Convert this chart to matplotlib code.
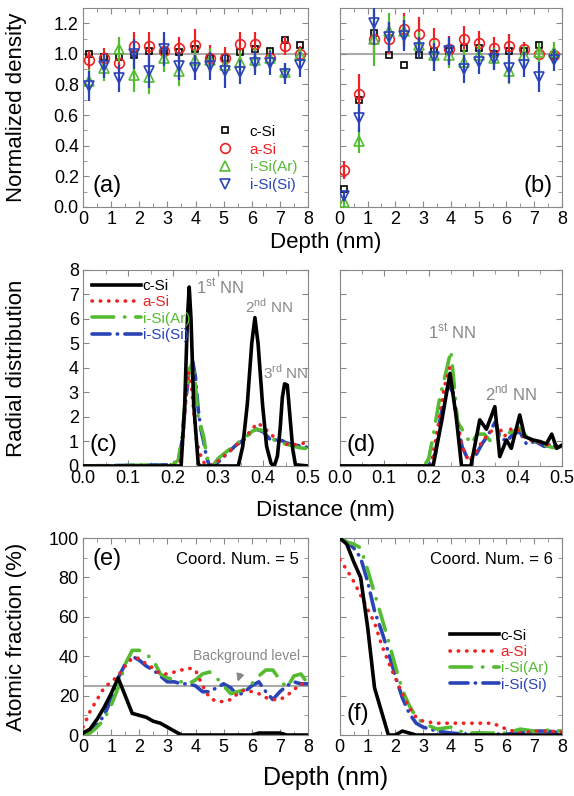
import matplotlib
matplotlib.use('Agg')
import matplotlib.pyplot as plt
from matplotlib.ticker import MultipleLocator

plt.rcParams['font.family'] = ['Liberation Sans', 'DejaVu Sans']
plt.rcParams['mathtext.fontset'] = 'custom'
plt.rcParams['mathtext.rm'] = 'Liberation Sans'

NAMES = ['c-Si', 'a-Si', 'i-Si(Ar)', 'i-Si(Si)']
COLORS = ['black', '#ee2222', '#55bb33', '#2a44b8']
GRAY = '#888888'

# ---- panel (a): normalized density vs depth ----
a_x = [0.22 + 0.535 * i for i in range(15)]
a_csi = [1.00, 0.98, 0.98, 0.99, 1.02, 1.02, 1.01, 1.03, 0.97, 0.97, 1.01, 1.03, 1.02, 1.09, 1.06]
a_asi = [0.96, 0.97, 0.94, 1.05, 1.05, 1.02, 1.04, 1.06, 0.97, 0.975, 1.065, 1.065, 0.97, 1.05, 1.00]
a_ar = [0.82, 0.91, 1.03, 0.86, 0.85, 0.97, 0.89, 0.96, 0.96, 0.93, 0.95, 0.96, 0.97, 0.88, 0.99]
a_si = [0.79, 0.92, 0.84, 1.00, 0.89, 1.03, 0.92, 0.91, 0.92, 0.89, 0.88, 0.94, 0.94, 0.87, 0.93]
a_err_asi = [0.06, 0.07, 0.06, 0.09, 0.09, 0.08, 0.07, 0.10, 0.09, 0.07, 0.08, 0.08, 0.06, 0.06, 0.05]
a_err_ar = [0.08, 0.09, 0.08, 0.11, 0.11, 0.09, 0.10, 0.07, 0.08, 0.07, 0.07, 0.08, 0.06, 0.06, 0.05]
a_err_si = [0.10, 0.08, 0.09, 0.10, 0.11, 0.11, 0.09, 0.08, 0.09, 0.11, 0.08, 0.08, 0.08, 0.07, 0.08]

# ---- panel (b) ----
b_x = [0.14 + 0.542 * i for i in range(15)]
b_csi = [0.115, 0.70, 1.135, 0.99, 0.93, 0.99, 1.02, 1.02, 1.04, 1.04, 1.00, 1.02, 1.02, 1.06, 0.99]
b_asi = [0.24, 0.74, 1.10, 1.10, 1.16, 1.13, 1.07, 1.03, 1.10, 1.07, 1.04, 1.05, 1.03, 1.00, 0.99]
b_ar = [0.03, 0.43, 1.10, 1.15, 1.15, 1.06, 0.99, 0.99, 0.95, 0.99, 0.97, 0.89, 0.99, 1.01, 1.01]
b_si = [0.07, 0.58, 1.20, 1.11, 1.12, 1.04, 0.98, 1.02, 0.90, 0.95, 0.965, 0.91, 0.93, 0.85, 0.96]
b_err_asi = [0.06, 0.13, 0.10, 0.10, 0.11, 0.11, 0.10, 0.09, 0.08, 0.08, 0.07, 0.08, 0.05, 0.05, 0.04]
b_err_ar = [0.03, 0.08, 0.18, 0.12, 0.10, 0.08, 0.10, 0.08, 0.08, 0.07, 0.07, 0.09, 0.06, 0.06, 0.07]
b_err_si = [0.03, 0.09, 0.14, 0.10, 0.10, 0.07, 0.09, 0.09, 0.09, 0.08, 0.07, 0.10, 0.08, 0.10, 0.07]

# ---- panel (c): radial distribution ----
c_csi_x = [0, 0.218, 0.226, 0.232, 0.236, 0.240, 0.246, 0.256, 0.26, 0.345, 0.355, 0.365, 0.375,
           0.382, 0.389, 0.399, 0.408, 0.418, 0.425, 0.432, 0.438, 0.443, 0.448, 0.454, 0.460,
           0.466, 0.472, 0.5]
c_csi_y = [0, 0, 2.5, 6.0, 7.3, 6.0, 2.5, 0.1, 0, 0, 0.8, 2.5, 5.0, 6.05, 5.0, 2.5, 0.8, 0.1, 0.0,
           0.4, 1.5, 2.8, 3.35, 3.3, 2.0, 0.7, 0.05, 0]
c_asi_x = [0, 0.20, 0.215, 0.222, 0.228, 0.234, 0.240, 0.246, 0.252, 0.258, 0.264, 0.270, 0.28,
           0.29, 0.30, 0.32, 0.34, 0.36, 0.375, 0.388, 0.40, 0.42, 0.44, 0.46, 0.48, 0.5]
c_asi_y = [0, 0, 0.1, 1.0, 2.6, 3.85, 3.5, 2.2, 1.1, 0.6, 0.3, 0.1, 0.02, 0.05, 0.2, 0.5, 0.85,
           1.15, 1.5, 1.75, 1.6, 1.25, 0.95, 0.85, 0.9, 0.95]
c_ar_x = [0, 0.20, 0.212, 0.22, 0.228, 0.236, 0.244, 0.25, 0.256, 0.262, 0.268, 0.274, 0.28,
          0.29, 0.30, 0.32, 0.34, 0.36, 0.375, 0.385, 0.40, 0.42, 0.44, 0.46, 0.48, 0.5]
c_ar_y = [0, 0.05, 0.25, 1.2, 2.8, 3.9, 4.25, 3.3, 2.0, 1.6, 1.2, 0.5, 0.1, 0.05, 0.3, 0.6, 0.9,
          1.15, 1.4, 1.5, 1.45, 1.1, 0.95, 0.85, 0.75, 0.7]
c_si_x = [0, 0.20, 0.212, 0.22, 0.228, 0.236, 0.244, 0.25, 0.256, 0.262, 0.268, 0.274, 0.28,
          0.29, 0.30, 0.32, 0.34, 0.36, 0.375, 0.385, 0.40, 0.42, 0.435, 0.45, 0.47, 0.49, 0.5]
c_si_y = [0, 0.05, 0.2, 1.0, 2.6, 3.9, 4.25, 3.6, 2.3, 1.5, 1.0, 0.4, 0.05, 0.02, 0.15, 0.5, 0.85,
          1.1, 1.4, 1.5, 1.4, 1.0, 1.12, 0.95, 0.85, 0.8, 0.75]

# ---- panel (d) ----
d_csi_x = [0, 0.21, 0.23, 0.248, 0.262, 0.274, 0.295, 0.315, 0.33, 0.349, 0.36, 0.375, 0.386,
           0.405, 0.416, 0.435, 0.45, 0.465, 0.477, 0.488, 0.5]
d_csi_y = [0, 0, 1.9, 3.78, 2.0, 0, 0, 1.88, 1.5, 2.42, 0.38, 1.06, 0.72, 2.08, 1.2, 1.06, 1.0,
           0.9, 1.3, 0.72, 0.85]
d_asi_x = [0, 0.205, 0.22, 0.235, 0.247, 0.262, 0.275, 0.29, 0.305, 0.32, 0.34, 0.355, 0.37,
           0.385, 0.40, 0.42, 0.44, 0.46, 0.48, 0.5]
d_asi_y = [0, 0, 1.5, 3.2, 4.0, 2.0, 0.8, 0.2, 0.5, 1.0, 1.4, 1.7, 1.2, 1.5, 1.5, 1.1, 1.0, 0.9,
           0.8, 0.9]
d_ar_x = [0, 0.19, 0.20, 0.21, 0.225, 0.24, 0.25, 0.258, 0.265, 0.275, 0.285, 0.295, 0.31, 0.325,
          0.34, 0.355, 0.37, 0.39, 0.405, 0.42, 0.44, 0.46, 0.48, 0.5]
d_ar_y = [0, 0, 0.3, 1.2, 2.8, 3.9, 4.7, 3.2, 1.8, 1.5, 1.2, 0.9, 1.3, 1.3, 1.0, 1.2, 1.3, 1.4,
          1.55, 1.2, 1.0, 0.85, 0.75, 0.8]
d_si_x = [0, 0.20, 0.215, 0.225, 0.235, 0.245, 0.255, 0.265, 0.275, 0.29, 0.305, 0.32, 0.335,
          0.35, 0.36, 0.375, 0.39, 0.405, 0.42, 0.44, 0.46, 0.48, 0.5]
d_si_y = [0, 0, 0.5, 1.8, 2.8, 3.3, 3.0, 1.8, 0.8, 0.2, 0.4, 0.9, 1.3, 1.8, 1.2, 1.0, 1.3, 1.4,
          0.9, 1.0, 0.8, 0.9, 0.75]

# ---- panel (e): coordination number 5 ----
e_depth = [0, 0.25, 0.5, 0.75, 1.0, 1.25, 1.5, 1.75, 2.0, 2.25, 2.5, 2.75, 3.0, 3.25, 3.5, 3.75,
           4.0, 4.25, 4.5, 4.75, 5.0, 5.25, 5.5, 5.75, 6.0, 6.25, 6.5, 6.75, 7.0, 7.25, 7.5,
           7.75, 8.0]
e_csi = [1, 3, 8, 14, 21, 29, 20, 11, 10, 9, 7, 6, 4, 2, 0, 0, 0, 0, 0, 0, 0, 0, 0, 0, 0, 1, 1,
         1, 1, 0, 0, 0, 0]
e_asi = [4, 12, 18, 24, 27, 30, 35, 39, 39, 36, 34, 31, 31, 32, 33, 34, 33, 25, 19, 17, 17, 18,
         21, 23, 22, 21, 19, 18, 18, 20, 23, 26, 25]
e_ar = [0, 1, 4, 8, 15, 24, 36, 43, 43, 41, 38, 31, 29, 28, 27, 26, 28, 31, 32, 29, 25, 21, 22,
        23, 26, 30, 33, 33, 28, 24, 30, 31, 26]
e_si = [0, 2, 5, 10, 18, 29, 36, 40, 38, 35, 33, 30, 27, 27, 26, 26, 25, 22, 22, 24, 26, 24, 20,
        22, 25, 27, 22, 18, 22, 25, 27, 26, 26]

# ---- panel (f): coordination number 6 ----
f_depth = [0, 0.25, 0.5, 0.75, 1.0, 1.25, 1.5, 1.75, 2.0, 2.25, 2.5, 2.75, 3.0, 3.5, 4.0, 4.5,
           5.0, 5.5, 6.0, 6.5, 7.0, 7.5, 8.0]
f_csi = [100, 97, 88, 80, 55, 24, 12, 0, 0, 2, 1, 0, 0, 0, 0, 0, 0, 0, 0, 0, 0, 0, 0]
f_asi = [89, 84, 78, 71, 64, 57, 46, 37, 29, 21, 14, 9, 7, 6, 6, 6, 6, 6, 3, 1, 2, 2, 1.5]
f_ar = [100, 98, 97, 95, 84, 72, 60, 48, 35, 23, 15, 9, 6, 3, 4, 1, 1, 1, 1, 3, 2, 2.5, 2]
f_si = [100, 98, 95, 90, 78, 63, 53, 42, 30, 19, 11, 6, 4, 2, 1, 0.5, 1, 0.5, 0.5, 1, 2, 2, 1]

LS = ['-', (0, (0.1, 2.2)), (0, (6, 3, 0.1, 3)), (0, (5, 2, 0.1, 2))]


def style_axes(ax, xmaj, xmin, ymaj, ymin, labels_y=True):
    for s in ax.spines.values():
        s.set_color(GRAY)
    ax.xaxis.set_major_locator(MultipleLocator(xmaj))
    ax.xaxis.set_minor_locator(MultipleLocator(xmin))
    ax.yaxis.set_major_locator(MultipleLocator(ymaj))
    ax.yaxis.set_minor_locator(MultipleLocator(ymin))
    ax.tick_params(which='both', direction='in', top=True, right=True, color=GRAY,
                   labelsize=13, pad=3)
    ax.tick_params(which='major', length=4)
    ax.tick_params(which='minor', length=3)
    if not labels_y:
        ax.tick_params(labelleft=False)


def density_panel(ax, x, vals, errs, label_y):
    ax.axhline(1.0, color='#aaaaaa', lw=1.5, zorder=1)
    ax.plot(x, vals[0], ls='none', marker='s', ms=5, mfc='none', mec='black', mew=1.2, zorder=3)
    markers = ['o', '^', 'v']
    for k in range(3):
        ax.errorbar(x, vals[k + 1], yerr=errs[k], fmt=markers[k], ms=7, mfc='none',
                    mec=COLORS[k + 1], mew=1.2, ecolor=COLORS[k + 1], elinewidth=1.6,
                    capsize=0, zorder=3 + k)
    ax.set_xlim(0, 8)
    ax.set_ylim(0, 1.3)
    style_axes(ax, 1, 0.5, 0.2, 0.1, label_y)


def line_panel(ax, series):
    for k, (xs, ys) in enumerate(series):
        ax.plot(xs, ys, color=COLORS[k], ls=LS[k], lw=2.6, label=NAMES[k],
                dash_capstyle='round' if k else 'butt', zorder=5 - k)


fig = plt.figure(figsize=(5.74, 7.96), dpi=100)
L1, W1 = 0.1446, 0.392
L2, W2 = 0.592, 0.387

# row 1
ax_a = fig.add_axes([L1, 0.740, W1, 0.250])
ax_b = fig.add_axes([L2, 0.740, W2, 0.250])
density_panel(ax_a, a_x, [a_csi, a_asi, a_ar, a_si], [a_err_asi, a_err_ar, a_err_si], True)
density_panel(ax_b, b_x, [b_csi, b_asi, b_ar, b_si], [b_err_asi, b_err_ar, b_err_si], False)
ax_a.set_ylabel('Normalized density', fontsize=16)
ax_a.yaxis.set_label_coords(-0.25, 0.5)
fig.text(0.567, 0.695, 'Depth (nm)', ha='center', va='center', fontsize=16)

# legend of (a): markers only
hs = [plt.Line2D([], [], ls='none', marker='s', ms=5, mfc='none', mec='black', mew=1.2)]
for k, m in enumerate(['o', '^', 'v']):
    hs.append(plt.Line2D([], [], ls='none', marker=m, ms=7, mfc='none', mec=COLORS[k + 1], mew=1.2))
leg = ax_a.legend(hs, NAMES, loc='lower right', bbox_to_anchor=(1.0, 0.02), frameon=False,
                  fontsize=11, handletextpad=0.6, labelspacing=0.25, borderaxespad=0.3)
for t, c in zip(leg.get_texts(), COLORS):
    t.set_color(c)
ax_a.text(0.04, 0.05, '(a)', transform=ax_a.transAxes, fontsize=17, ha='left', va='bottom')
ax_b.text(0.96, 0.05, '(b)', transform=ax_b.transAxes, fontsize=17, ha='right', va='bottom')

# row 2
ax_c = fig.add_axes([L1, 0.4146, W1, 0.2464])
ax_d = fig.add_axes([L2, 0.4146, W2, 0.2464])
line_panel(ax_c, [(c_csi_x, c_csi_y), (c_asi_x, c_asi_y), (c_ar_x, c_ar_y), (c_si_x, c_si_y)])
line_panel(ax_d, [(d_csi_x, d_csi_y), (d_asi_x, d_asi_y), (d_ar_x, d_ar_y), (d_si_x, d_si_y)])
for ax, lab in [(ax_c, True), (ax_d, False)]:
    ax.set_xlim(0, 0.5)
    ax.set_ylim(0, 8)
    style_axes(ax, 0.1, 0.05, 1, 1, lab)
ax_c.set_ylabel('Radial distribution', fontsize=16)
ax_c.yaxis.set_label_coords(-0.25, 0.5)
fig.text(0.567, 0.359, 'Distance (nm)', ha='center', va='center', fontsize=16)
leg = ax_c.legend(loc='upper left', frameon=False, fontsize=11, handlelength=3.2,
                  handletextpad=0.1, labelspacing=0.15, borderaxespad=0.2)
for t, c in zip(leg.get_texts(), COLORS):
    t.set_color(c)
ax_c.text(0.25, 7.3, r'1$^{\mathrm{st}}$ NN', color=GRAY, fontsize=12, va='center')
ax_c.text(0.36, 6.5, r'2$^{\mathrm{nd}}$ NN', color=GRAY, fontsize=11, va='center')
ax_c.text(0.40, 3.8, r'3$^{\mathrm{rd}}$ NN', color=GRAY, fontsize=11, va='center')
ax_d.text(0.198, 5.47, r'1$^{\mathrm{st}}$ NN', color=GRAY, fontsize=12, va='center')
ax_d.text(0.327, 2.98, r'2$^{\mathrm{nd}}$ NN', color=GRAY, fontsize=12, va='center')
ax_c.text(0.03, 0.05, '(c)', transform=ax_c.transAxes, fontsize=17, ha='left', va='bottom')
ax_d.text(0.03, 0.05, '(d)', transform=ax_d.transAxes, fontsize=17, ha='left', va='bottom')

# row 3
ax_e = fig.add_axes([L1, 0.0766, W1, 0.2474])
ax_f = fig.add_axes([L2, 0.0766, W2, 0.2474])
line_panel(ax_e, [(e_depth, e_csi), (e_depth, e_asi), (e_depth, e_ar), (e_depth, e_si)])
line_panel(ax_f, [(f_depth, f_csi), (f_depth, f_asi), (f_depth, f_ar), (f_depth, f_si)])
for ax, lab in [(ax_e, True), (ax_f, False)]:
    ax.set_xlim(0, 8)
    ax.set_ylim(0, 100)
    style_axes(ax, 1, 0.5, 20, 10, lab)
ax_e.axhline(25, color='#aaaaaa', lw=1.5, zorder=1)
ax_e.annotate('Background level', xy=(5.5, 27), xytext=(5.8, 40), color=GRAY, fontsize=10,
              ha='center', va='center',
              arrowprops=dict(arrowstyle='-|>', color=GRAY, lw=1.5, shrinkA=6, shrinkB=0))
ax_e.set_ylabel('Atomic fraction (%)', fontsize=16)
ax_e.yaxis.set_label_coords(-0.25, 0.5)
fig.text(0.567, 0.0226, 'Depth (nm)', ha='center', va='center', fontsize=18)
ax_e.text(0.96, 0.93, 'Coord. Num. = 5', transform=ax_e.transAxes, fontsize=12,
          ha='right', va='top')
ax_f.text(0.96, 0.93, 'Coord. Num. = 6', transform=ax_f.transAxes, fontsize=12,
          ha='right', va='top')
ax_e.text(0.04, 0.95, '(e)', transform=ax_e.transAxes, fontsize=17, ha='left', va='top')
ax_f.text(0.03, 0.05, '(f)', transform=ax_f.transAxes, fontsize=17, ha='left', va='bottom')
leg = ax_f.legend(loc='center right', bbox_to_anchor=(1.0, 0.38), frameon=False, fontsize=11,
                  handlelength=3.2, handletextpad=0.1, labelspacing=0.15)
for t, c in zip(leg.get_texts(), COLORS):
    t.set_color(c)

fig.savefig('out.png', dpi=100)
